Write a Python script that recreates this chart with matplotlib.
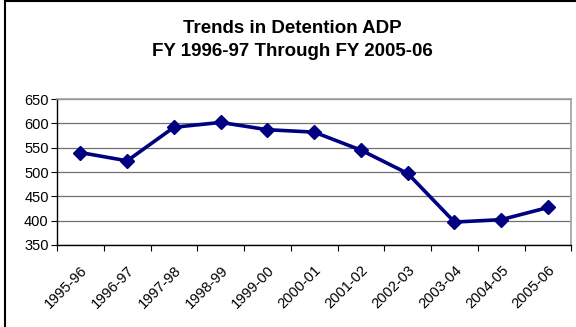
import matplotlib.pyplot as plt
from matplotlib.lines import Line2D

plt.rcParams['font.family'] = ['Liberation Sans', 'DejaVu Sans']

# fiscal years and average daily population
years = ["1995-96", "1996-97", "1997-98", "1998-99", "1999-00", "2000-01",
         "2001-02", "2002-03", "2003-04", "2004-05", "2005-06"]
adp = [540, 523, 592, 602, 587, 582, 545, 497, 397, 402, 427]
yticks = [350, 400, 450, 500, 550, 600, 650]

fig = plt.figure(figsize=(5.76, 3.27), dpi=100)
ax = fig.add_axes([0.099, 0.251, 0.893, 0.446])

x = list(range(len(years)))
ax.plot(x, adp, color="#000080", lw=2.6, marker="D", ms=7,
        markeredgecolor="#000080", zorder=3, clip_on=False)

ax.set_xlim(-0.5, len(years) - 0.5)
ax.set_ylim(350, 650)
ax.set_yticks(yticks)
ax.yaxis.grid(True, color="#707070", lw=0.9)
ax.set_axisbelow(True)

# category ticks sit between the points
ax.set_xticks([i - 0.5 for i in range(len(years) + 1)])
ax.set_xticklabels([])
ax.set_xticks(x, minor=True)
ax.set_xticklabels(years, minor=True, rotation=45, ha="right",
                   rotation_mode="anchor", fontsize=10.5)
ax.tick_params(axis="x", which="minor", length=0, pad=13)
ax.tick_params(axis="x", which="major", length=4, width=0.8, direction="out")
ax.tick_params(axis="y", length=4, width=0.8, labelsize=10.5, pad=2)

for side in ["top", "right"]:
    ax.spines[side].set_color("#a0a0a0")
    ax.spines[side].set_linewidth(1.2)
ax.spines["left"].set_linewidth(1.0)
ax.spines["bottom"].set_linewidth(1.0)

fig.text(0.508, 0.912, "Trends in Detention ADP", ha="center", va="center",
         fontsize=13.5, fontweight="bold")
fig.text(0.508, 0.842, "FY 1996-97 Through FY 2005-06", ha="center", va="center",
         fontsize=13.5, fontweight="bold")

# outer chart frame along the top and left edges
fig.add_artist(Line2D([0.008, 0.008], [0, 0.996], color="black", lw=1.5,
                      transform=fig.transFigure))
fig.add_artist(Line2D([0.008, 1.0], [0.996, 0.996], color="black", lw=1.5,
                      transform=fig.transFigure))

fig.savefig("out.png", dpi=100)
